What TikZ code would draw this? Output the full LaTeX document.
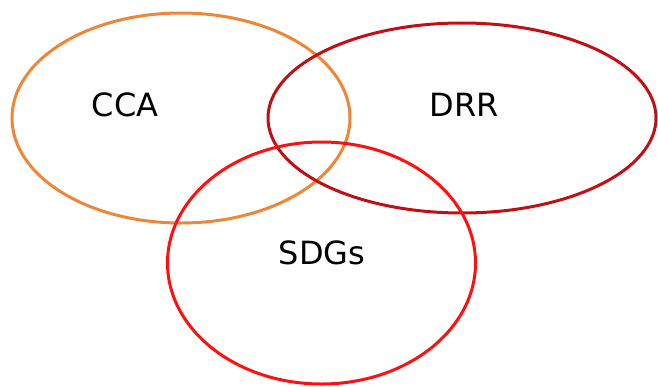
\documentclass[tikz,border=0pt]{standalone}
\usepackage{fontspec}
\setmainfont{DejaVu Sans}
\definecolor{ccaorange}{RGB}{238,134,56}
\definecolor{drrred}{RGB}{192,16,20}
\definecolor{sdgred}{RGB}{255,16,16}
\begin{document}
\begin{tikzpicture}[x=1pt,y=-1pt,line width=3pt,font=\fontsize{32}{38}\selectfont]
	\useasboundingbox (0,0) rectangle (658,386);
	\draw[ccaorange](181,118) ellipse (169 and 105);
	\draw[drrred](462,118) ellipse (194 and 95);
	\draw[sdgred](321.5,263) ellipse (154 and 121);
	\node (cca) at (125,105) {CCA};
	\node (drr) at (464,105) {DRR};
	\node (sdg) at (322,253) {SDGs};
\end{tikzpicture}
\end{document}
